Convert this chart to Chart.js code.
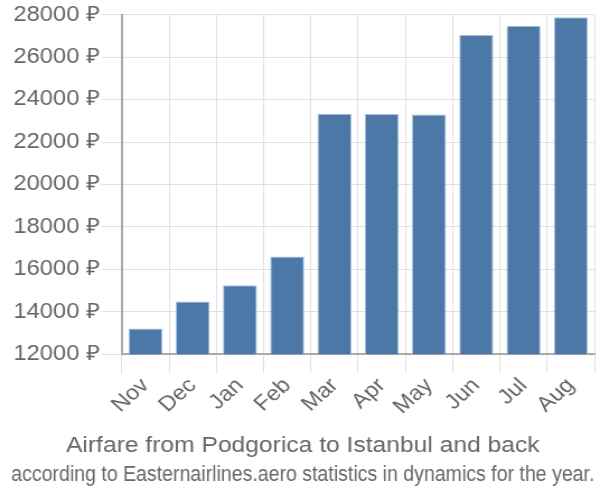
<!DOCTYPE html>
<html>
<head>
<meta charset="utf-8">
<script src="https://cdn.jsdelivr.net/npm/chart.js"></script>
<style>
html,body{margin:0;padding:0;background:#fff;overflow:hidden;}
</style>
</head>
<body>
<canvas id="c" width="536" height="500" style="display:block;width:600px;height:500px;"></canvas>
<script>
const categories = ["Nov","Dec","Jan","Feb","Mar","Apr","May","Jun","Jul","Aug"];
const prices = [13220, 14490, 15250, 16610, 23340, 23320, 23300, 27050, 27480, 27880];
const yTicks = [12000, 14000, 16000, 18000, 20000, 22000, 24000, 26000, 28000];
const titleText = "Airfare from Podgorica to Istanbul and back";
const subtitleText = "according to Easternairlines.aero statistics in dynamics for the year.";
const FONT = 'Liberation Sans, Arial, sans-serif';

const canvas = document.getElementById('c');
const chart = new Chart(canvas, {
  type: 'bar',
  data: {
    labels: categories,
    datasets: [{
      data: prices,
      backgroundColor: '#4c78a8',
      borderColor: '#a9c1dd',
      borderWidth: 1
    }]
  },
  options: {
    responsive: false,
    maintainAspectRatio: false,
    animation: false,
    devicePixelRatio: 1,
    layout: { padding: { left: 10, right: 5, top: 4, bottom: 0 } },
    plugins: {
      legend: { display: false },
      tooltip: { enabled: false },
      title: {
        display: true,
        position: 'bottom',
        text: titleText,
        color: '#666',
        font: { family: FONT, size: 22, weight: 'normal' },
        padding: { top: 14, bottom: 2 },
        weight: 1000
      },
      subtitle: {
        display: true,
        position: 'bottom',
        text: subtitleText,
        color: '#666',
        font: { family: FONT, size: 22, weight: 'normal' },
        padding: { top: 0, bottom: 12 },
        weight: 2000
      }
    },
    scales: {
      x: {
        grid: { color: '#e0e0e0', lineWidth: 1, tickLength: 19, offset: true },
        border: { color: '#aaa', width: 2 },
        ticks: { color: '#666', font: { family: FONT, size: 21 }, maxRotation: 45, minRotation: 45, padding: 0 }
      },
      y: {
        min: 12000,
        max: 28000,
        afterBuildTicks: axis => { axis.ticks = yTicks.map(v => ({ value: v })); },
        grid: { color: '#e0e0e0', lineWidth: 1, tickLength: 18 },
        border: { color: '#aaa', width: 2 },
        ticks: {
          color: '#666',
          padding: 2,
          font: { family: FONT, size: 21.2 },
          callback: v => v + ' ₽'
        }
      }
    }
  }
});
canvas.style.width = '600px';
canvas.style.height = '500px';
</script>
</body>
</html>
